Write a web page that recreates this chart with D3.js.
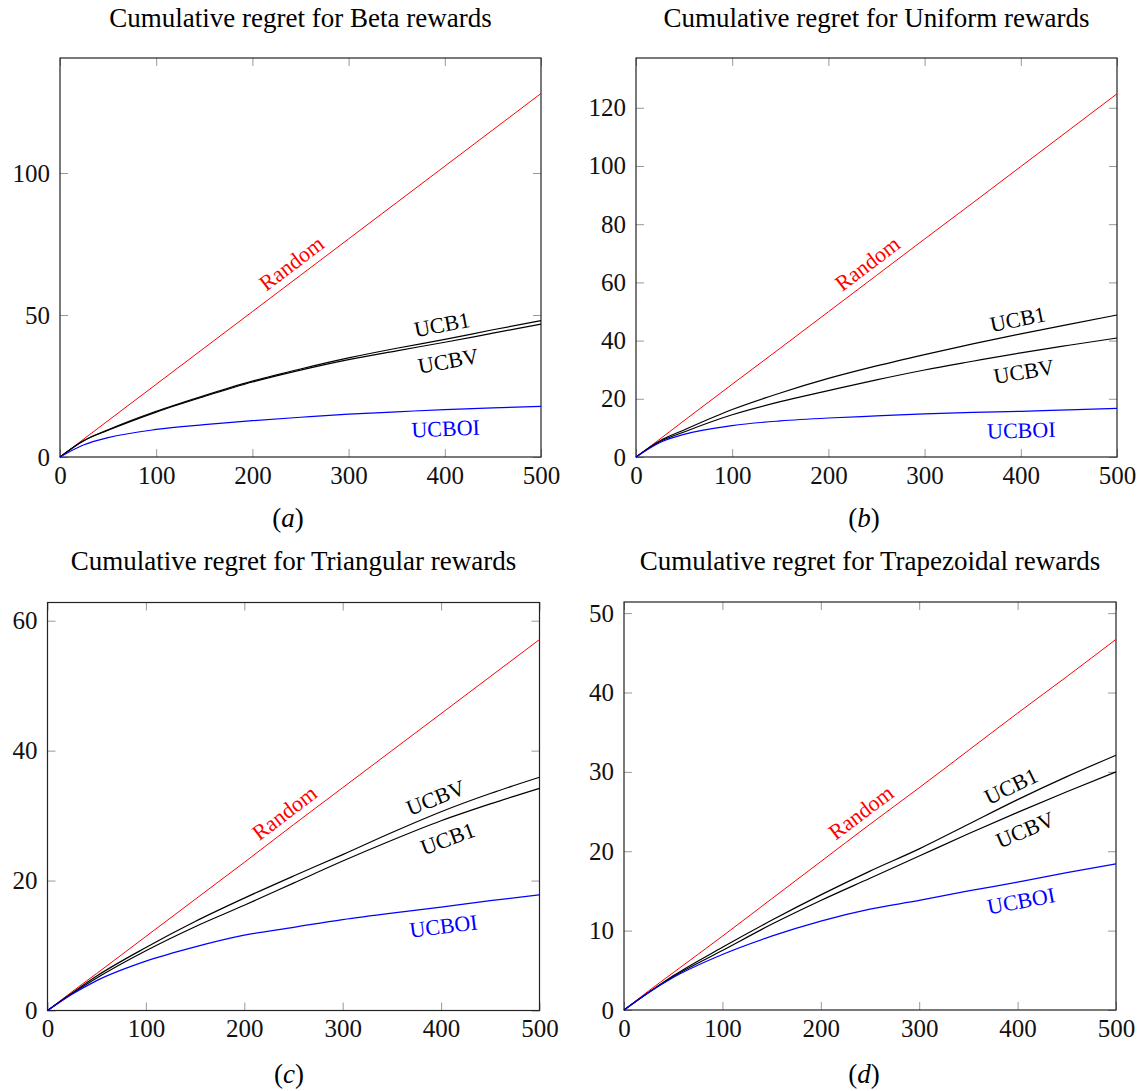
<!DOCTYPE html>
<html lang="en">
<head>
<meta charset="utf-8">
<title>Cumulative regret</title>
<script src="https://cdn.jsdelivr.net/npm/d3@7"></script>
<style>
  body { margin: 0; background: #fff; }
  text { font-family: "Liberation Serif", "DejaVu Serif", "Times New Roman", serif; }
</style>
</head>
<body>
<script>
// rounds (x values shared by every series)
var rounds = [0, 25, 50, 100, 150, 200, 250, 300, 350, 400, 450, 500];
var xTicks = [0, 100, 200, 300, 400, 500];

// (a) Beta rewards
var betaRandom = [0, 6.4, 12.8, 25.6, 38.4, 51.2, 64, 76.8, 89.6, 102.4, 115.2, 128];
var betaUCB1   = [0, 5.8, 9.6, 16.1, 21.6, 26.7, 31.0, 34.9, 38.3, 41.4, 44.8, 48.0];
var betaUCBV   = [0, 5.8, 9.4, 15.8, 21.3, 26.4, 30.6, 34.3, 37.4, 40.4, 43.6, 46.8];
var betaUCBOI  = [0, 4.3, 6.8, 9.7, 11.4, 12.8, 14.0, 15.1, 15.9, 16.7, 17.3, 17.8];
var betaTicks  = [0, 50, 100];

// (b) Uniform rewards
var unifRandom = [0, 6.2, 12.5, 25, 37.4, 49.9, 62.4, 74.9, 87.3, 99.8, 112.3, 124.8];
var unifUCB1   = [0, 5.6, 9.3, 16.3, 22.0, 27.0, 31.3, 35.2, 38.9, 42.3, 45.6, 48.8];
var unifUCBV   = [0, 5.3, 8.6, 14.5, 19.0, 22.8, 26.5, 29.9, 32.9, 35.8, 38.4, 40.9];
var unifUCBOI  = [0, 5.0, 7.8, 10.8, 12.4, 13.4, 14.1, 14.8, 15.3, 15.7, 16.2, 16.7];
var unifTicks  = [0, 20, 40, 60, 80, 100, 120];

// (c) Triangular rewards
var triRandom = [0, 2.9, 5.7, 11.4, 17.1, 22.8, 28.6, 34.3, 40.0, 45.7, 51.4, 57.1];
var triUCB1   = [0, 2.6, 5.0, 9.2, 12.9, 16.2, 19.6, 23.0, 26.2, 29.2, 31.8, 34.2];
var triUCBV   = [0, 2.7, 5.3, 9.7, 13.7, 17.3, 20.7, 24.0, 27.4, 30.6, 33.4, 35.9];
var triUCBOI  = [0, 2.5, 4.6, 7.6, 9.8, 11.6, 12.8, 14.0, 15.0, 15.9, 16.9, 17.8];
var triTicks  = [0, 20, 40, 60];

// (d) Trapezoidal rewards
var trapRandom = [0, 2.4, 4.7, 9.3, 14.0, 18.7, 23.4, 28.0, 32.7, 37.4, 42.0, 46.7];
var trapUCB1   = [0, 2.2, 4.3, 7.9, 11.3, 14.5, 17.5, 20.3, 23.4, 26.5, 29.4, 32.1];
var trapUCBV   = [0, 2.2, 4.2, 7.5, 10.8, 13.8, 16.6, 19.4, 22.2, 24.9, 27.5, 30.0];
var trapUCBOI  = [0, 2.2, 4.1, 7.0, 9.3, 11.2, 12.7, 13.8, 15.0, 16.1, 17.3, 18.4];
var trapTicks  = [0, 10, 20, 30, 40, 50];

var w = 1141;
var h = 1091;
var serif = '"Liberation Serif", "DejaVu Serif", "Times New Roman", serif';

var svg = d3.select('body')
            .append('svg')
            .attr('width', w)
            .attr('height', h);

var panels = [
    {title: 'Cumulative regret for Beta rewards', sub: 'a', left: 60, right: 541, top: 58, bottom: 457, ymax: 140.5,
     yTicks: betaTicks, titleY: 27, subX: 288, subY: 527,
     series: [
        {vals: betaRandom, color: 'red', name: 'Random', side: 1, at: 250},
        {vals: betaUCB1, color: 'black', name: 'UCB1', side: 1, at: 400},
        {vals: betaUCBV, color: 'black', name: 'UCBV', side: -1, at: 400},
        {vals: betaUCBOI, color: 'blue', name: 'UCBOI', side: -1, at: 400}]},
    {title: 'Cumulative regret for Uniform rewards', sub: 'b', left: 636, right: 1117, top: 58, bottom: 457, ymax: 137.1,
     yTicks: unifTicks, titleY: 27, subX: 864, subY: 527,
     series: [
        {vals: unifRandom, color: 'red', name: 'Random', side: 1, at: 250},
        {vals: unifUCB1, color: 'black', name: 'UCB1', side: 1, at: 400},
        {vals: unifUCBV, color: 'black', name: 'UCBV', side: -1, at: 400},
        {vals: unifUCBOI, color: 'blue', name: 'UCBOI', side: -1, at: 400}]},
    {title: 'Cumulative regret for Triangular rewards', sub: 'c', left: 47.5, right: 539.5, top: 602.5, bottom: 1010.5, ymax: 62.8,
     yTicks: triTicks, titleY: 570, subX: 289, subY: 1083,
     series: [
        {vals: triRandom, color: 'red', name: 'Random', side: 1, at: 250},
        {vals: triUCBV, color: 'black', name: 'UCBV', side: 1, at: 400},
        {vals: triUCB1, color: 'black', name: 'UCB1', side: -1, at: 400},
        {vals: triUCBOI, color: 'blue', name: 'UCBOI', side: -1, at: 400}]},
    {title: 'Cumulative regret for Trapezoidal rewards', sub: 'd', left: 624, right: 1116, top: 602, bottom: 1010, ymax: 51.4,
     yTicks: trapTicks, titleY: 570, subX: 864, subY: 1083,
     series: [
        {vals: trapRandom, color: 'red', name: 'Random', side: 1, at: 250},
        {vals: trapUCB1, color: 'black', name: 'UCB1', side: 1, at: 400},
        {vals: trapUCBV, color: 'black', name: 'UCBV', side: -1, at: 400},
        {vals: trapUCBOI, color: 'blue', name: 'UCBOI', side: -1, at: 400}]}
];

// linear lookup into a series
function valueAt(vals, xv) {
    var i = d3.bisectRight(rounds, xv) - 1;
    if (i >= rounds.length - 1) return vals[vals.length - 1];
    if (i < 0) i = 0;
    var t = (xv - rounds[i]) / (rounds[i + 1] - rounds[i]);
    return vals[i] + t * (vals[i + 1] - vals[i]);
}

panels.forEach(function(p) {
    var x = d3.scaleLinear().domain([0, 500]).range([p.left, p.right]);
    var y = d3.scaleLinear().domain([0, p.ymax]).range([p.bottom, p.top]);

    var g = svg.append('g');

    // axes with inward ticks
    g.append('g')
        .attr('transform', 'translate(0,' + p.bottom + ')')
        .call(d3.axisBottom(x).tickValues(xTicks).tickSize(-8).tickPadding(9));
    g.append('g')
        .attr('transform', 'translate(0,' + p.top + ')')
        .call(d3.axisTop(x).tickValues(xTicks).tickSize(-8).tickFormat(''));
    g.append('g')
        .attr('transform', 'translate(' + p.left + ',0)')
        .call(d3.axisLeft(y).tickValues(p.yTicks).tickSize(-8).tickPadding(10));
    g.append('g')
        .attr('transform', 'translate(' + p.right + ',0)')
        .call(d3.axisRight(y).tickValues(p.yTicks).tickSize(-8).tickFormat(''));

    g.selectAll('.domain').remove();
    g.selectAll('.tick line').attr('stroke', '#999').attr('stroke-width', 1);
    g.selectAll('g').attr('font-family', serif);
    g.selectAll('.tick text')
        .attr('fill', '#111')
        .style('font-size', '25px')
        .style('font-family', serif);

    // frame
    g.append('rect')
        .attr('x', p.left)
        .attr('y', p.top)
        .attr('width', p.right - p.left)
        .attr('height', p.bottom - p.top)
        .attr('fill', 'none')
        .attr('stroke', '#222')
        .attr('stroke-width', 1.2);

    var line = d3.line()
        .x(function(d, i) { return x(rounds[i]); })
        .y(function(d) { return y(d); })
        .curve(d3.curveMonotoneX);

    p.series.forEach(function(s) {
        g.append('path')
            .attr('d', line(s.vals))
            .attr('fill', 'none')
            .attr('stroke', s.color)
            .attr('stroke-width', s.color == 'red' ? 1 : 1.2);
    });

    // sloped labels along each curve
    p.series.forEach(function(s) {
        var px = x(s.at), py = y(valueAt(s.vals, s.at));
        var dx = x(s.at + 10) - x(s.at - 10);
        var dy = y(valueAt(s.vals, s.at + 10)) - y(valueAt(s.vals, s.at - 10));
        var ang = Math.atan2(dy, dx);
        var off = s.side > 0 ? 15 : 19;
        var cx = px + s.side * off * Math.sin(ang);
        var cy = py - s.side * off * Math.cos(ang);
        g.append('text')
            .attr('transform', 'translate(' + cx + ',' + cy + ') rotate(' + (ang * 180 / Math.PI) + ')')
            .attr('text-anchor', 'middle')
            .attr('dominant-baseline', 'central')
            .attr('fill', s.color)
            .style('font-family', serif)
            .style('font-size', '22px')
            .text(s.name);
    });

    // title
    g.append('text')
        .attr('x', (p.left + p.right) / 2)
        .attr('y', p.titleY)
        .attr('text-anchor', 'middle')
        .style('font-family', serif)
        .style('font-size', '27px')
        .text(p.title);

    // subcaption
    var sub = g.append('text')
        .attr('x', p.subX)
        .attr('y', p.subY)
        .attr('text-anchor', 'middle')
        .style('font-family', serif)
        .style('font-size', '27px');
    sub.append('tspan').text('(');
    sub.append('tspan').style('font-style', 'italic').text(p.sub);
    sub.append('tspan').text(')');
});
</script>
</body>
</html>
